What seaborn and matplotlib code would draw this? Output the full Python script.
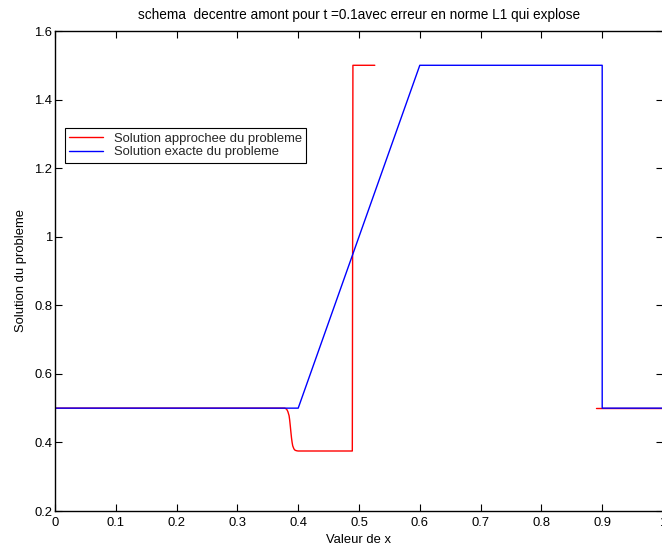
import numpy as np
import pandas as pd
import seaborn as sns
import matplotlib
matplotlib.use("Agg")
import matplotlib.pyplot as plt

# Approximate (upwind) scheme: the solution blows up between the two drawn pieces
approx_x = [0.0, 0.378, 0.381, 0.383, 0.385, 0.386, 0.387, 0.388, 0.389, 0.390,
            0.391, 0.393, 0.395, 0.398, 0.40, 0.489, 0.49, 0.526]
approx_y = [0.5, 0.5, 0.497, 0.49, 0.478, 0.465, 0.448, 0.43, 0.413, 0.40,
            0.39, 0.381, 0.377, 0.3755, 0.375, 0.375, 1.5, 1.5]
approx_tail_x = [0.889, 1.0]
approx_tail_y = [0.5, 0.5]

# Exact solution
exact_x = [0.0, 0.4, 0.6, 0.9, 0.9, 1.0]
exact_y = [0.5, 0.5, 1.5, 1.5, 0.5, 0.5]

lbl_approx = "Solution approchee du probleme"
lbl_exact = "Solution exacte du probleme"

df = pd.concat([
    pd.DataFrame({"x": approx_x, "y": approx_y, "serie": lbl_approx, "seg": 0}),
    pd.DataFrame({"x": approx_tail_x, "y": approx_tail_y, "serie": lbl_approx, "seg": 1}),
    pd.DataFrame({"x": exact_x, "y": exact_y, "serie": lbl_exact, "seg": 2}),
], ignore_index=True)

sns.set_theme(style="white")
plt.rcParams["font.family"] = ["Liberation Sans", "DejaVu Sans"]
fs = 9.4

fig = plt.figure(figsize=(6.62, 5.49), dpi=100)
ax = fig.add_axes([55 / 662, 1 - 511 / 549, 608 / 662, 480 / 549])

sns.lineplot(data=df, x="x", y="y", hue="serie", units="seg", estimator=None,
             sort=False, palette={lbl_approx: "#ff0000", lbl_exact: "#0000ff"},
             hue_order=[lbl_approx, lbl_exact], linewidth=1.0, ax=ax)

ax.set_xlim(0, 1)
ax.set_ylim(0.2, 1.6)
ax.set_xticks(np.arange(0, 1.01, 0.1))
ax.set_xticklabels(["0", "0.1", "0.2", "0.3", "0.4", "0.5", "0.6", "0.7", "0.8", "0.9", "1"])
ax.set_yticks(np.arange(0.2, 1.61, 0.2))
ax.set_yticklabels(["0.2", "0.4", "0.6", "0.8", "1", "1.2", "1.4", "1.6"])
ax.tick_params(direction="in", length=5, width=0.8, color="black", labelsize=fs,
               top=True, right=True, bottom=True, left=True, labelcolor="black")
ax.tick_params(axis="x", pad=4)
ax.tick_params(axis="y", pad=2)
for s in ax.spines.values():
    s.set_color("black")
    s.set_linewidth(1.0)

ax.set_xlabel("Valeur de x", fontsize=fs, labelpad=4, color="black")
ax.set_ylabel("Solution du probleme", fontsize=fs, labelpad=5, color="black")
ax.set_title("schema  decentre amont pour t =0.1avec erreur en norme L1 qui explose",
             fontsize=9.8, pad=9, color="black")

leg = ax.legend(loc="upper left", bbox_to_anchor=(0.016, 0.798), borderaxespad=0,
                frameon=True, fancybox=False, framealpha=1, edgecolor="black",
                fontsize=fs, handlelength=2.6, handletextpad=0.8, borderpad=0.35,
                labelspacing=0.12)
leg.get_frame().set_linewidth(0.8)

fig.savefig("out.png", dpi=100)
